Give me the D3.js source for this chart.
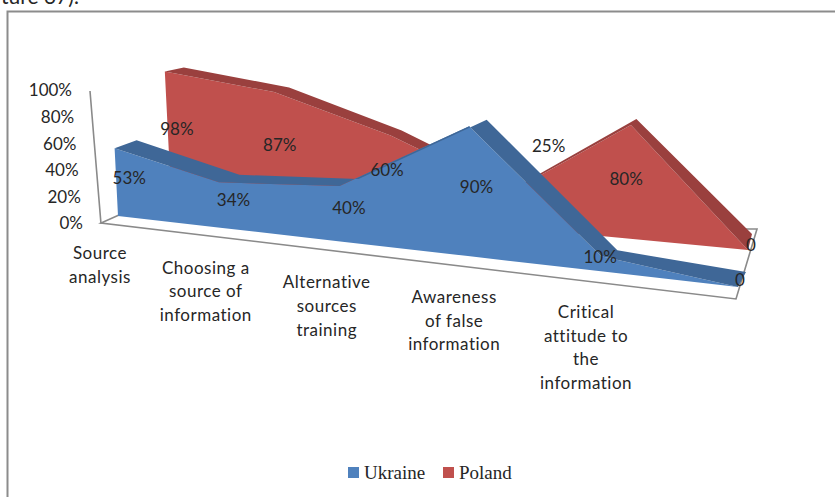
<!doctype html>
<html>
<head>
<title>Media literacy chart</title>
<script src="https://d3js.org/d3.v7.min.js"></script>
<style>
  html, body { margin: 0; padding: 0; background: #fff; overflow: hidden; }
  text { font-family: Lato, "Open Sans", sans-serif; fill: #262626; }
</style>
</head>
<body>
<div id="my_dataviz"></div>
<script>
// values
var categories = [
    ["Source", "analysis"],
    ["Choosing a", "source of", "information"],
    ["Alternative", "sources", "training"],
    ["Awareness", "of false", "information"],
    ["Critical", "attitude to", "the", "information"]
];
var ukraine = [53, 34, 40, 90, 10, 0];
var poland = [98, 87, 60, 25, 80, 0];
var ukraineLabels = ["53%", "34%", "40%", "90%", "10%", "0"];
var polandLabels = ["98%", "87%", "60%", "25%", "80%", "0"];
var yTicks = [0, 20, 40, 60, 80, 100];
var legendNames = ["Ukraine", "Poland"];

var width = 835, height = 497;

var svg = d3.select("#my_dataviz")
    .append("svg")
    .attr("width", width)
    .attr("height", height);

// cropped caption line and chart frame
svg.append("text").attr("x", 1).attr("y", 4).style("font-size", "21px").text("ture 37).");
svg.append("path")
    .attr("d", "M7.5,497V11.5H835")
    .attr("fill", "none")
    .attr("stroke", "#8c8c8c")
    .attr("stroke-width", 2);

// the fake 3d: each series has its own base line, heights grow to the right
var index = [0, 5];
var lean = d3.scaleLinear().domain([0, 5]).range([-0.05, 0.05]);

function makeSeries(opts) {
    var x = d3.scalePow().exponent(opts.exponent).domain(index).range(opts.xRange);
    var base = d3.scaleLinear().domain(opts.xRange).range(opts.yRange);
    var full = d3.scaleLinear().domain(index).range(opts.pxPerFull);
    var depthX = d3.scaleLinear().domain(opts.depthXAt).range(opts.depthX);
    var depthY = d3.scaleLinear().domain([0, 4, 5]).range(opts.depthY);

    function pt(i, v, depth) {
        var px = full(i) * v / 100;
        var bx = x(i);
        return [bx + px * lean(i) + (depth ? depthX(i) : 0),
                base(bx) - px + (depth ? depthY(i) : 0)];
    }

    return {
        values: opts.values, labels: opts.labels, fill: opts.fill, side: opts.side, pt: pt, nudge: opts.nudge,
        front: opts.values.map(function(v, i) { return pt(i, v, false); }),
        back: opts.values.map(function(v, i) { return pt(i, v, true); }),
        floor: opts.values.map(function(v, i) { return pt(i, 0, false); })
    };
}

var blue = makeSeries({
    values: ukraine, labels: ukraineLabels, fill: "#4f81bd", side: "#3f6797",
    exponent: 1.12, xRange: [118, 738], yRange: [216, 287], pxPerFull: [128, 155],
    depthXAt: [0, 4, 5], depthX: [22, 16, 8], depthY: [-8, -6, -15],
    nudge: [[13, -4], [14, -5], [9, -6], [8, -4], [-1, -7], [2, -7]]
});
var red = makeSeries({
    values: poland, labels: polandLabels, fill: "#c0504d", side: "#9a403e",
    exponent: 1.05, xRange: [171, 748], yRange: [195, 250], pxPerFull: [126, 146],
    depthXAt: [0, 3, 5], depthX: [19, 7, 4], depthY: [-4, -6, -16],
    nudge: [[9, -4], [4, -4], [-4, -6], [40, -64], [-3, -3], [3, -5]]
});

var line = d3.line();

// floor and the sloped value axis
var axisColor = "#8a8a8a";
var floorPts = [[119, 215], [101, 223], [736, 299], [757, 229], [745, 229]];
svg.append("path")
    .attr("d", line(floorPts))
    .attr("fill", "none")
    .attr("stroke", axisColor)
    .attr("stroke-width", 1.6);

var yAxisScale = d3.scaleLinear().domain([0, 100]).range([224, 91]);
var axisSlant = d3.scaleLinear().domain([0, 100]).range([101, 90]);
svg.append("path")
    .attr("d", line(yTicks.map(function(t) { return [axisSlant(t), yAxisScale(t)]; })))
    .attr("fill", "none")
    .attr("stroke", axisColor)
    .attr("stroke-width", 1.6);

var yAxis = svg.append("g")
    .call(d3.axisLeft(yAxisScale).tickValues(yTicks).tickSize(0)
        .tickFormat(function(d) { return d + "%"; }));
yAxis.select(".domain").remove();
yAxis.attr("font-family", null).attr("font-size", null);
yAxis.selectAll(".tick")
    .attr("transform", function(d) { return "translate(" + (axisSlant(d) - 18) + "," + yAxisScale(d) + ")"; });
yAxis.selectAll("text").attr("x", 0).style("font-size", "17px");

// ribbons, red one behind
[red, blue].forEach(function(s) {
    svg.append("path")
        .attr("d", line(s.front.concat(s.floor.slice().reverse())) + "Z")
        .attr("fill", s.fill);
    svg.append("path")
        .attr("d", line(s.front.concat(s.back.slice().reverse())) + "Z")
        .attr("fill", s.side);
});

// data labels sit half way up the ribbon
[red, blue].forEach(function(s) {
    svg.append("g").selectAll("text")
        .data(s.values)
        .enter()
        .append("text")
        .attr("text-anchor", "middle")
        .attr("dy", "0.35em")
        .attr("x", function(d, i) { return s.pt(i, d / 2, false)[0] + s.nudge[i][0]; })
        .attr("y", function(d, i) { return s.pt(i, d / 2, false)[1] + s.nudge[i][1]; })
        .style("font-size", "17px")
        .text(function(d, i) { return s.labels[i]; });
});

// category labels step down along the front edge
var catX = d3.scalePow().exponent(1.1).domain([0, 4]).range([100, 586]);
var catY = d3.scaleLinear().domain([0, 4]).range([253, 312]);
var cat = svg.append("g").selectAll("text")
    .data(categories)
    .enter()
    .append("text")
    .attr("text-anchor", "middle")
    .style("font-size", "17px")
    .style("letter-spacing", "0.5px");
cat.selectAll("tspan")
    .data(function(d, i) { return d.map(function(t, j) { return {t: t, i: i, j: j}; }); })
    .enter()
    .append("tspan")
    .attr("x", function(d) { return catX(d.i); })
    .attr("y", function(d) { return catY(d.i) + d.j * 23.6; })
    .attr("dy", "0.35em")
    .text(function(d) { return d.t; });

// legend
var legendColor = d3.scaleOrdinal().domain(legendNames).range(["#4f81bd", "#c0504d"]);
var legendX = d3.scaleOrdinal().domain(legendNames).range([348, 443]);
var legend = svg.append("g").selectAll("g")
    .data(legendNames)
    .enter()
    .append("g")
    .attr("transform", function(d) { return "translate(" + legendX(d) + ",467)"; });
legend.append("rect")
    .attr("width", 11)
    .attr("height", 11)
    .attr("fill", function(d) { return legendColor(d); });
legend.append("text")
    .attr("x", 16)
    .attr("y", 12)
    .style("font-family", "'Liberation Serif', serif")
    .style("font-size", "19px")
    .text(function(d) { return d; });
</script>
</body>
</html>
